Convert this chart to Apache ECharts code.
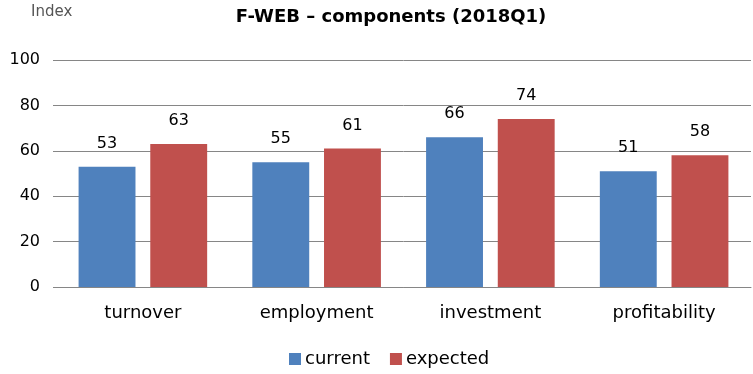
<!DOCTYPE html>
<html>
<head>
<meta charset="utf-8">
<script src="https://cdn.jsdelivr.net/npm/echarts@6/dist/echarts.min.js"></script>
<style>
  html, body { margin: 0; padding: 0; background: #fff; }
  #chart { width: 753px; height: 374px; }
</style>
</head>
<body>
<div id="chart"></div>
<script>
// F-WEB component indices, 2018Q1
const categories = ['turnover', 'employment', 'investment', 'profitability'];
const currentValues = [53, 55, 66, 51];
const expectedValues = [63, 61, 74, 58];
const yTicks = [0, 20, 40, 60, 80, 100];

const FONT = '"DejaVu Sans", sans-serif';
const chart = echarts.init(document.getElementById('chart'));

const labelStyle = {
  show: true,
  position: 'top',
  distance: 15,
  color: '#000',
  fontFamily: FONT,
  fontSize: 16
};

chart.setOption({
  animation: false,
  title: [
    {
      text: 'F-WEB – components (2018Q1)',
      left: 386,
      textAlign: 'center',
      top: 3,
      textStyle: { fontFamily: FONT, fontSize: 18, fontWeight: 'bold', color: '#000' }
    },
    {
      text: 'Index',
      left: 26,
      top: 0,
      textStyle: { fontFamily: FONT, fontSize: 15, fontWeight: 'normal', color: '#555' }
    }
  ],
  legend: {
    bottom: 1,
    left: 284,
    itemWidth: 12,
    itemHeight: 12,
    itemGap: 20,
    icon: 'rect',
    textStyle: { fontFamily: FONT, fontSize: 18, color: '#000', padding: [0, 0, 0, -1] },
    data: ['current', 'expected']
  },
  grid: { left: 56, right: 2, top: 60, bottom: 87, containLabel: false },
  xAxis: {
    type: 'category',
    data: categories,
    axisLine: { show: true, lineStyle: { color: '#868686', width: 1 } },
    axisTick: { show: false },
    axisLabel: { fontFamily: FONT, fontSize: 18, color: '#000', margin: 17 }
  },
  yAxis: {
    type: 'value',
    min: yTicks[0],
    max: yTicks[yTicks.length - 1],
    interval: yTicks[1] - yTicks[0],
    axisLine: { show: false },
    axisTick: { show: true, length: 3, lineStyle: { color: '#868686' } },
    axisLabel: { fontFamily: FONT, fontSize: 16, color: '#000', margin: 16 },
    splitLine: { show: true, lineStyle: { color: '#868686', width: 1 } }
  },
  series: [
    {
      name: 'current',
      type: 'bar',
      data: currentValues,
      barGap: '26%',
      barCategoryGap: '26%',
      itemStyle: { color: '#4F81BD' },
      label: labelStyle
    },
    {
      name: 'expected',
      type: 'bar',
      data: expectedValues,
      itemStyle: { color: '#C0504D' },
      label: labelStyle
    }
  ]
});
</script>
</body>
</html>
